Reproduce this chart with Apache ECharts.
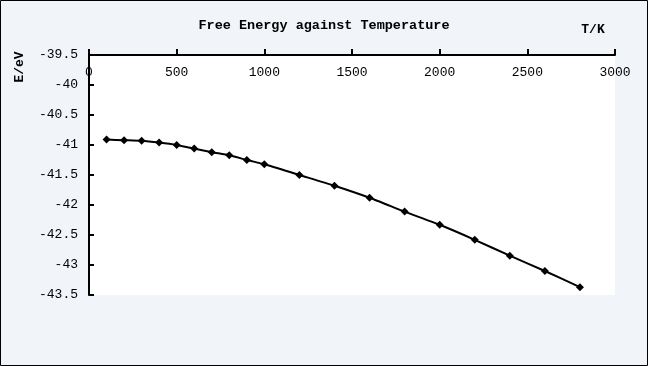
<!DOCTYPE html>
<html>
<head>
<meta charset="utf-8">
<script src="https://cdn.jsdelivr.net/npm/echarts@6/dist/echarts.min.js"></script>
<style>
html,body{margin:0;padding:0;background:#f1f4f9;}
#c{width:648px;height:366px;}
</style>
</head>
<body>
<div id="c"></div>
<script>
var temperatures = [100,200,300,400,500,600,700,800,900,1000,1200,1400,1600,1800,2000,2200,2400,2600,2800];
var freeEnergy = [-40.91,-40.92,-40.93,-40.96,-41.0,-41.06,-41.12,-41.17,-41.25,-41.32,-41.5,-41.68,-41.88,-42.11,-42.33,-42.58,-42.845,-43.1,-43.37];
var chartTitle = 'Free Energy against Temperature';
var xName = 'T/K';
var yName = 'E/eV';

var font = '"Liberation Mono", "DejaVu Sans Mono", monospace';
var chart = echarts.init(document.getElementById('c'), null, {renderer:'canvas'});
var data = temperatures.map(function(t,i){return [t, freeEnergy[i]];});
chart.setOption({
  backgroundColor:'#f1f4f9',
  animation:false,
  title:{text:chartTitle,left:'center',top:14,textStyle:{fontFamily:font,fontSize:13.5,fontWeight:'bold',color:'#000'}},
  grid:{left:89,top:55,width:526,height:240,show:true,backgroundColor:'#ffffff',borderWidth:0},
  xAxis:{type:'value',position:'top',min:0,max:3000,interval:500,
    axisLine:{show:true,onZero:false,lineStyle:{color:'#000',width:2}},
    axisTick:{show:true,inside:false,length:6,lineStyle:{color:'#000',width:2}},
    axisLabel:{inside:true,margin:11,color:'#000',fontFamily:font,fontSize:13,formatter:function(v){return String(v);}},
    splitLine:{show:false}},
  yAxis:{type:'value',min:-43.5,max:-39.5,interval:0.5,
    axisLine:{show:true,onZero:false,lineStyle:{color:'#000',width:2}},
    axisTick:{show:true,inside:true,length:5,lineStyle:{color:'#000',width:2}},
    axisLabel:{margin:11,color:'#000',fontFamily:font,fontSize:13,formatter:function(v){return String(v);}},
    splitLine:{show:false}},
  series:[{type:'line',data:data,smooth:0.2,symbol:'diamond',symbolSize:8,
    lineStyle:{color:'#000',width:2},itemStyle:{color:'#000'}}],
  graphic:[
    {type:'rect',shape:{x:0.5,y:0.5,width:647,height:365},style:{fill:null,stroke:'#000',lineWidth:1},z:100},
    {type:'text',x:593,y:30,style:{text:xName,font:'bold 13px '+font,fill:'#000',textAlign:'center',textVerticalAlign:'middle'}},
    {type:'text',x:20,y:67,rotation:Math.PI/2,style:{text:yName,font:'bold 13px '+font,fill:'#000',textAlign:'center',textVerticalAlign:'middle'}}
  ]
});
</script>
</body>
</html>
